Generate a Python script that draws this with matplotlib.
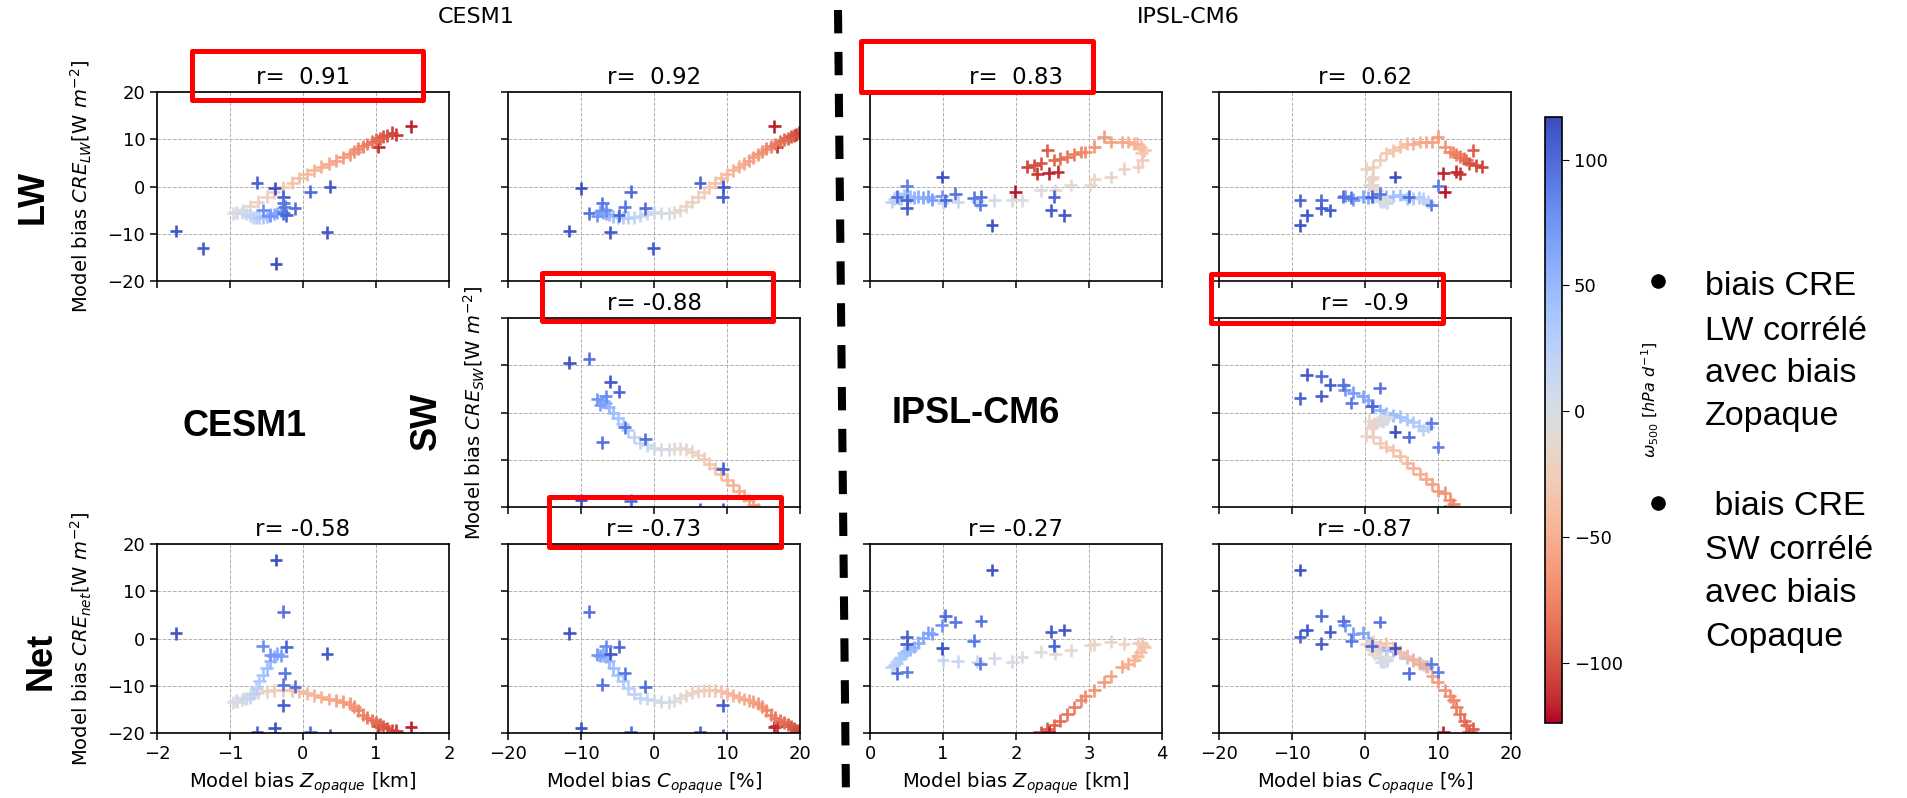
import matplotlib.pyplot as plt
from matplotlib.colors import Normalize
from matplotlib.cm import ScalarMappable
from matplotlib.patches import Rectangle
from matplotlib.lines import Line2D

# CESM1 : regimes de omega500 et biais du modele
cesm_omega = [-118, -114, -110, -106, -102, -98, -94, -90, -86, -82, -78, -74, -70, -66, -62,
              -58, -54, -50, -46, -42, -38, -34, -30, -26, -22, -18, -14, -10, -6, -2,
              4, 8, 12, 16, 20, 26, 32, 38, 44, 50, 56, 62, 68, 74, 80,
              112, 108, 115, 104, 110, 106, 100, 114, 98, 96, 102, 109, 94, 92]
cesm_dz = [1.48, 1.03, 1.28, 1.22, 1.15, 1.10, 1.05, 1.00, 0.95, 0.88, 0.82, 0.75, 0.70, 0.64, 0.55,
           0.45, 0.35, 0.25, 0.15, 0.05, -0.05, -0.15, -0.27, -0.40, -0.50, -0.62, -0.72, -0.82, -0.92, -0.96,
           -0.90, -0.84, -0.78, -0.73, -0.68, -0.64, -0.60, -0.55, -0.50, -0.45, -0.40, -0.35, -0.30, -0.45, -0.55,
           -1.74, -1.37, -0.37, -0.63, 0.37, -0.27, 0.10, -0.39, -0.11, -0.27, -0.23, 0.33, -0.27, -0.25]
cesm_dc = [16.5, 16.8, 19.5, 19.8, 19.2, 18.8, 18.3, 17.8, 17.2, 16.6, 16.0, 15.4, 14.8, 14.2, 13.6,
           13.0, 12.3, 11.6, 10.8, 10.0, 9.2, 8.4, 7.6, 6.8, 6.0, 5.2, 4.4, 3.6, 2.8, 2.0,
           1.0, 0.0, -1.0, -1.9, -2.8, -3.6, -4.3, -5.0, -5.6, -6.2, -6.6, -7.0, -7.4, -7.8, -6.6,
           -11.6, -0.1, -24.0, 6.3, 9.5, 9.4, -3.2, -10.0, -1.2, -8.9, -4.8, -6.0, -7.1, -4.0]
cesm_lw = [12.7, 8.4, 11.0, 11.4, 10.8, 10.6, 10.2, 9.9, 9.5, 9.0, 8.5, 8.0, 7.4, 6.8, 6.2,
           5.5, 4.8, 4.2, 3.4, 2.6, 1.8, 0.8, -0.2, -1.2, -2.2, -3.2, -4.2, -5.0, -5.5, -5.7,
           -5.6, -5.5, -5.8, -6.2, -6.5, -6.6, -6.6, -6.5, -6.3, -6.0, -5.8, -5.6, -5.2, -6.2, -5.0,
           -9.4, -13.1, -16.3, 0.8, 0.0, -2.2, -1.1, -0.4, -4.6, -5.7, -6.1, -9.7, -3.5, -4.3]
cesm_sw = [-31.5, -27.0, -30.5, -30.8, -29.8, -29.2, -28.4, -27.6, -26.8, -25.8, -24.6, -23.2, -21.8, -20.6, -19.6,
           -18.6, -17.6, -16.6, -15.4, -14.2, -13.0, -11.8, -10.8, -9.8, -9.0, -8.3, -7.8, -7.6, -7.7, -7.8,
           -7.8, -7.5, -6.9, -6.4, -5.2, -3.8, -2.4, -1.2, 0.0, 1.2, 2.0, 2.4, 1.6, 2.8, 3.4,
           10.5, -22.0, 32.9, -20.6, -20.5, -11.9, -18.7, -18.6, -5.6, 11.4, 4.4, 6.5, -6.3, -3.1]
cesm_net = [-18.8, -18.6, -19.5, -19.4, -19.0, -18.6, -18.2, -17.7, -17.3, -16.8, -16.1, -15.2, -14.4, -13.8, -13.4,
            -13.1, -12.8, -12.4, -12.0, -11.6, -11.2, -11.0, -11.0, -11.0, -11.2, -11.5, -12.0, -12.6, -13.2, -13.5,
            -13.4, -13.0, -12.7, -12.6, -11.7, -10.4, -9.0, -7.7, -6.3, -4.8, -3.8, -3.2, -3.6, -3.4, -1.6,
            1.1, -35.1, 16.6, -19.8, -20.5, -14.1, -19.8, -19.0, -10.2, 5.7, -1.7, -3.2, -9.8, -7.4]
cesm_r = ['r=  0.91', 'r=  0.92', 'r= -0.88', 'r= -0.58', 'r= -0.73']

# IPSL-CM6
ipsl_omega = [74, 70, 66, 62, 58, 54, 50, 46, 42, 38, 34, 30, 26, 22,
              18, 14, 10, 6, 2, -2, -6, -9, -12, -14,
              -16, -18, -20, -22,
              -26, -30, -34, -38, -42, -46, -50, -54, -58, -62, -66, -70, -74, -78, -82,
              -86, -90, -94, -98, -102, -106, -110, -114, -117, -120,
              112, 104, 110, 100, 106, 108, 96, 92, 94, 102, 114, 98, 90, 88]
ipsl_dz = [0.98, 0.85, 0.80, 0.72, 0.66, 0.60, 0.55, 0.50, 0.46, 0.42, 0.40, 0.36, 0.33, 0.30,
           1.00, 1.20, 1.47, 1.70, 1.95, 2.08, 2.34, 2.54, 2.75, 3.02,
           3.07, 3.30, 3.48, 3.67,
           3.73, 3.72, 3.76, 3.71, 3.66, 3.62, 3.53, 3.45, 3.30, 3.20, 3.07, 2.95, 2.89, 2.80, 2.70,
           2.60, 2.52, 2.43, 2.34, 2.25, 2.15, 2.29, 2.57, 2.45, 1.99,
           1.67, 0.50, 2.66, 1.03, 0.50, 2.48, 1.52, 1.42, 1.17, 2.52, 0.99, 0.37, 1.51, 0.50]
ipsl_dc = [-2.8, -1.6, -0.3, 0.4, 1.1, 2.0, 2.9, 3.8, 4.8, 5.7, 6.6, 7.4, 8.0, 8.6,
           3.0, 2.6, 2.2, 2.0, 2.4, 3.0, 1.6, 1.2, 1.0, 0.6,
           0.9, 1.1, 0.2, 1.1,
           2.0, 2.9, 3.9, 4.8, 5.8, 6.6, 7.5, 8.4, 9.2, 10.0, 10.9, 11.6, 12.1, 12.5, 13.0,
           13.6, 13.9, 14.8, 14.2, 15.2, 16.0, 13.0, 12.5, 10.7, 10.9,
           -8.9, -8.9, -8.0, -6.0, -6.0, -4.8, -3.0, -1.9, 2.0, 0.9, 4.1, 6.0, 9.1, 10.0]
ipsl_lw = [-2.0, -2.8, -2.2, -2.4, -2.2, -2.3, -2.2, -2.0, -1.8, -2.6, -2.5, -2.3, -2.6, -3.2,
           -3.4, -3.2, -3.1, -2.9, -2.9, -2.9, -0.8, -0.8, 0.3, 0.3,
           1.6, 2.0, 3.8, 4.2,
           5.6, 7.0, 7.7, 8.4, 9.1, 9.1, 9.4, 9.4, 9.4, 10.5, 8.4, 7.3, 7.3, 6.8, 6.3,
           5.9, 5.6, 7.7, 4.9, 4.5, 4.2, 2.7, 3.1, 2.8, -1.1,
           -8.2, -2.9, -6.1, -2.9, -4.6, -5.0, -2.2, -2.4, -1.5, -2.2, 2.0, -2.2, -3.9, 0.2]
ipsl_sw = [4.8, 4.2, 3.4, 2.6, 1.3, 0.5, -0.2, -0.6, -0.9, -1.5, -2.0, -2.8, -3.7, -3.0,
           -1.2, -1.6, -1.8, -1.3, -2.0, -1.0, -2.0, -2.4, -2.8, -1.7,
           -3.2, -2.7, -4.9, -5.2,
           -6.4, -7.2, -8.0, -9.2, -10.6, -11.8, -13.0, -14.0, -15.2, -16.6, -17.0, -18.6, -19.4, -21.4, -22.3,
           -23.3, -24.0, -26.8, -24.7, -25.5, -26.0, -24.0, -25.0, -22.6, -20.9,
           22.7, 3.0, 8.0, 7.7, 3.5, 5.9, 5.9, 2.0, 5.2, 1.3, -4.1, -5.2, -2.3, -7.3]
ipsl_net = [2.8, 1.0, 1.2, 0.2, -0.9, -1.8, -2.4, -2.6, -3.0, -4.1, -4.4, -5.1, -5.6, -6.0,
            -4.6, -4.8, -4.9, -4.2, -4.9, -3.9, -2.8, -3.2, -2.5, -1.4,
            -1.2, -0.7, -1.1, -1.0,
            -1.4, -1.0, -1.8, -2.8, -3.6, -4.6, -5.3, -6.0, -8.0, -9.2, -11.0, -12.2, -13.1, -14.6, -16.0,
            -17.4, -18.4, -19.1, -19.8, -21.0, -21.8, -21.3, -21.9, -19.8, -22.0,
            14.5, 0.4, 1.8, 4.8, -1.1, 1.4, 3.7, -0.5, 3.5, -1.5, -2.1, -7.4, -5.3, -7.1]
ipsl_r = ['r=  0.83', 'r=  0.62', 'r=  -0.9', 'r= -0.27', 'r= -0.87']

W, H = 1907, 798
fig = plt.figure(figsize=(W / 100, H / 100), dpi=100)

col_x = [157, 508, 870, 1219]
row_y = [92, 318, 544]
aw, ah = 292, 189

norm = Normalize(vmin=-124, vmax=117)
cmap = plt.get_cmap('coolwarm_r')


def panneau(row, col, x, y, omega, titre):
    ax = fig.add_axes([col_x[col] / W, 1 - (row_y[row] + ah) / H, aw / W, ah / H])
    ax.set_axisbelow(True)
    ax.scatter(x, y, c=omega, cmap=cmap, norm=norm, marker='+', s=85, linewidths=1.9)
    ax.set_ylim(-20, 20)
    ax.set_yticks([-20, -10, 0, 10, 20])
    if col == 0:
        ax.set_xlim(-2, 2)
        ax.set_xticks([-2, -1, 0, 1, 2])
    elif col == 2:
        ax.set_xlim(0, 4)
        ax.set_xticks([0, 1, 2, 3, 4])
    else:
        ax.set_xlim(-20, 20)
        ax.set_xticks([-20, -10, 0, 10, 20])
    ax.grid(True, ls='--', lw=0.7, color='#b0b0b0')
    ax.set_title(titre, fontsize=16.5)
    ax.tick_params(labelsize=13, length=5, width=1.1,
                   labelleft=(col == 0), labelbottom=(row == 2))
    for s in ax.spines.values():
        s.set_linewidth(1.2)
    if row == 2:
        if col in (0, 2):
            ax.set_xlabel('Model bias $Z_{opaque}$ [km]', fontsize=14)
        else:
            ax.set_xlabel('Model bias $C_{opaque}$ [%]', fontsize=14)
        ax.xaxis.set_label_coords(0.5, -0.20)
    return ax


# CESM1
ax = panneau(0, 0, cesm_dz, cesm_lw, cesm_omega, cesm_r[0])
ax.set_ylabel('Model bias $CRE_{LW}$[W $m^{-2}$]', fontsize=14)
ax.yaxis.set_label_coords(-0.215, 0.5)
panneau(0, 1, cesm_dc, cesm_lw, cesm_omega, cesm_r[1])
ax = panneau(1, 1, cesm_dc, cesm_sw, cesm_omega, cesm_r[2])
ax.set_ylabel('Model bias $CRE_{SW}$[W $m^{-2}$]', fontsize=14)
ax.yaxis.set_label_coords(-0.072, 0.5)
ax = panneau(2, 0, cesm_dz, cesm_net, cesm_omega, cesm_r[3])
ax.set_ylabel('Model bias $CRE_{net}$[W $m^{-2}$]', fontsize=14)
ax.yaxis.set_label_coords(-0.215, 0.5)
panneau(2, 1, cesm_dc, cesm_net, cesm_omega, cesm_r[4])

# IPSL-CM6
panneau(0, 2, ipsl_dz, ipsl_lw, ipsl_omega, ipsl_r[0])
panneau(0, 3, ipsl_dc, ipsl_lw, ipsl_omega, ipsl_r[1])
panneau(1, 3, ipsl_dc, ipsl_sw, ipsl_omega, ipsl_r[2])
panneau(2, 2, ipsl_dz, ipsl_net, ipsl_omega, ipsl_r[3])
panneau(2, 3, ipsl_dc, ipsl_net, ipsl_omega, ipsl_r[4])

# colorbar
cax = fig.add_axes([1545 / W, 1 - 723 / H, 17 / W, 606 / H])
cb = fig.colorbar(ScalarMappable(norm=norm, cmap=cmap), cax=cax)
cb.set_ticks([-100, -50, 0, 50, 100])
cax.tick_params(labelsize=13, length=5)
cb.outline.set_linewidth(1.2)
fig.text(1650 / W, 1 - 400 / H, r'$\omega_{500}$ [$hPa\ d^{-1}$]', rotation=90,
         ha='center', va='center', fontsize=11.5)


def fx(x):
    return x / W


def fy(y):
    return 1 - y / H


# textes du montage
fig.text(fx(476), fy(17), 'CESM1', ha='center', va='center', fontsize=16)
fig.text(fx(1188), fy(17), 'IPSL-CM6', ha='center', va='center', fontsize=16)

gras = dict(family='Liberation Sans', weight='bold', fontsize=26, ha='center', va='center')
fig.text(fx(33), fy(197), 'LW', rotation=90, **gras)
fig.text(fx(426), fy(421), 'SW', rotation=90, **gras)
fig.text(fx(41), fy(661), 'Net', rotation=90, **gras)
fig.text(fx(245), fy(426), 'CESM1', **gras)
fig.text(fx(976), fy(413), 'IPSL-CM6', **gras)

# separation entre les deux modeles
fig.add_artist(Line2D([fx(838), fx(846)], [fy(10), fy(798)], color='k', lw=5.8,
                      ls=(0, (2.9, 2.3)), transform=fig.transFigure))

# cadres rouges
cadres = [(189, 48, 425, 102), (539, 271, 775, 324), (858, 39, 1095, 94),
          (1208, 271, 1445, 325), (546, 494, 783, 549)]
for x0, y0, x1, y1 in cadres:
    fig.add_artist(Rectangle((fx(x0 + 2.5), fy(y1 - 2.5)), (x1 - x0 - 5) / W, (y1 - y0 - 5) / H,
                             fill=False, ec='red', lw=3.6, joinstyle='round',
                             transform=fig.transFigure))

# commentaires a droite
for yb in (281, 503):
    fig.add_artist(Line2D([fx(1658)], [fy(yb)], marker='o', ms=9.5, color='k',
                          transform=fig.transFigure))

lignes1 = ['biais CRE', 'LW corrélé', 'avec biais', 'Zopaque']
lignes2 = [' biais CRE', 'SW corrélé', 'avec biais', 'Copaque']
for lignes, ys in ((lignes1, [283, 328, 370, 413]), (lignes2, [503, 547, 590, 634])):
    for t, y in zip(lignes, ys):
        fig.text(fx(1705), fy(y + 12), t, family='Liberation Sans', fontsize=24.5,
                 ha='left', va='baseline')

fig.savefig('out.png', dpi=100)
